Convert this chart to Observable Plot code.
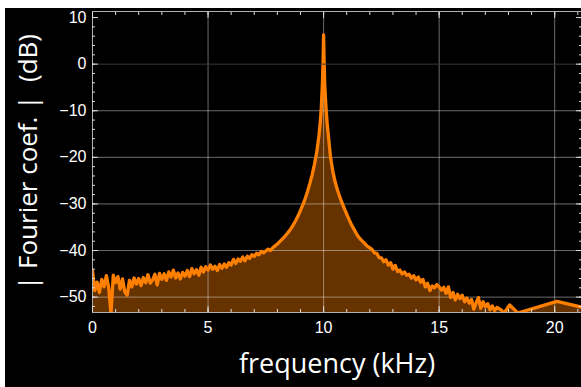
<!DOCTYPE html>
<html><head><meta charset="utf-8">
<script src="https://cdn.jsdelivr.net/npm/d3@7"></script>
<script src="https://cdn.jsdelivr.net/npm/@observablehq/plot@0.6"></script>
<style>
html,body{margin:0;padding:0;background:#fff;width:581px;height:387px;overflow:hidden;}
#chart{position:absolute;left:5px;top:8px;}
</style></head><body><div id="chart"></div>
<script>
const freqKHz = [
  0.0,0.1,0.2,0.3,0.4,0.5,0.6,0.7,0.8,0.9,
  1.0,1.1,1.2,1.3,1.4,1.5,1.6,1.7,1.8,1.9,
  2.0,2.1,2.2,2.3,2.4,2.5,2.6,2.7,2.8,2.9,
  3.0,3.1,3.2,3.3,3.4,3.5,3.6,3.7,3.8,3.9,
  4.0,4.1,4.2,4.3,4.4,4.5,4.6,4.7,4.8,4.9,
  5.0,5.1,5.2,5.3,5.4,5.5,5.6,5.7,5.8,5.9,
  6.0,6.1,6.2,6.3,6.4,6.5,6.6,6.7,6.8,6.9,
  7.0,7.1,7.2,7.3,7.4,7.5,7.6,7.7,7.8,7.9,
  8.0,8.1,8.2,8.3,8.4,8.5,8.6,8.7,8.8,8.9,
  9.0,9.1,9.2,9.3,9.4,9.5,9.6,9.7,9.8,9.85,9.9,9.95,9.98,
  10.0,10.02,10.05,10.1,10.15,10.2,10.3,10.4,10.5,10.6,10.7,10.8,10.9,
  11.0,11.1,11.2,11.3,11.4,11.5,11.6,11.7,11.8,11.9,
  12.0,12.1,12.2,12.3,12.4,12.5,12.6,12.7,12.8,12.9,
  13.0,13.1,13.2,13.3,13.4,13.5,13.6,13.7,13.8,13.9,
  14.0,14.1,14.2,14.3,14.4,14.5,14.6,14.7,14.8,14.9,
  15.0,15.1,15.2,15.3,15.4,15.5,15.6,15.7,15.8,15.9,
  16.0,16.1,16.2,16.3,16.4,16.5,16.6,16.7,16.8,16.9,
  17.0,17.1,17.2,17.3,17.4,17.5,17.7,17.8,18.05,18.4,20.1,21.3
];
const levelDB = [
  -44.3,-48.6,-46.8,-49.0,-46.2,-47.8,-45.4,-47.9,-53.5,-45.3,
  -46.9,-45.6,-48.3,-46.1,-48.9,-49.6,-46.4,-47.8,-45.9,-47.2,
  -46.0,-47.5,-45.8,-46.9,-45.2,-47.0,-46.3,-45.1,-47.4,-44.9,
  -46.2,-45.0,-46.4,-44.6,-45.7,-44.2,-45.9,-44.8,-46.1,-44.7,
  -45.5,-44.3,-45.6,-43.9,-45.0,-44.1,-45.3,-43.6,-44.6,-43.5,
  -44.2,-43.1,-44.0,-43.4,-44.3,-43.0,-43.8,-42.9,-43.6,-42.6,
  -43.1,-41.9,-42.8,-41.8,-42.3,-41.4,-42.2,-41.2,-41.7,-40.9,
  -41.3,-40.6,-40.9,-40.2,-40.5,-40.1,-39.7,-40.0,-39.4,-39.0,
  -38.6,-38.1,-37.6,-37.1,-36.5,-35.9,-35.2,-34.4,-33.5,-32.5,
  -31.4,-30.2,-28.9,-27.4,-25.7,-23.8,-21.6,-19.0,-15.3,-12.8,-9.5,-4.0,1.0,
  6.3,1.0,-4.5,-9.0,-12.5,-15.0,-20.0,-23.0,-25.3,-27.0,-28.5,-29.8,-31.0,
  -32.2,-33.3,-34.4,-35.3,-36.2,-37.0,-37.6,-38.1,-38.6,-39.1,
  -39.4,-39.8,-40.5,-40.6,-41.5,-41.6,-42.4,-42.0,-43.1,-42.6,
  -44.0,-43.2,-44.5,-44.2,-45.0,-44.6,-45.3,-45.1,-45.9,-45.4,
  -46.3,-45.7,-46.8,-46.2,-47.8,-47.0,-48.6,-47.6,-48.0,-47.3,
  -47.8,-48.5,-47.9,-49.2,-47.8,-50.1,-49.0,-50.6,-49.4,-50.3,
  -49.6,-51.0,-50.2,-51.3,-50.5,-52.6,-51.2,-50.1,-52.4,-51.0,
  -52.1,-51.4,-52.7,-51.9,-52.9,-52.2,-52.8,-53.5,-51.7,-53.4,-50.9,-52.3
];
const xMajorTicks = [0, 5, 10, 15, 20];
const xMinorTicks = d3.range(0, 22, 1);
const yMajorTicks = [-50, -40, -30, -20, -10, 0, 10];
const yMinorTicks = d3.range(-52, 12, 2);
const xGrid = [5, 10, 15, 20];
const yGrid = [-50, -40, -30, -20, -10];
const xLabel = "frequency (kHz)";
const yLabel = "| Fourier coef. |\u00a0 (dB)";

const data = freqKHz.map((f, i) => ({f, db: levelDB[i]}));
const labelFont = "'Open Sans', sans-serif";
const tickFont = "'Liberation Sans', Arial, sans-serif";
const tickColor = "#dddddd";

const chart = Plot.plot({
  width: 576,
  height: 379,
  marginLeft: 87,
  marginRight: 0,
  marginTop: 3,
  marginBottom: 75,
  style: {background: "black", color: "white", fontFamily: tickFont, fontSize: "16px", overflow: "visible"},
  x: {domain: [0, 21.16]},
  y: {domain: [-53.3, 11.3]},
  marks: [
    Plot.areaY(data, {x: "f", y1: -60, y2: "db", fill: "#663300", clip: true}),
    Plot.gridX(xGrid, {stroke: "white", strokeOpacity: 0.42}),
    Plot.gridY(yGrid, {stroke: "white", strokeOpacity: 0.42}),
    Plot.line(data, {x: "f", y: "db", stroke: "#ff8000", strokeWidth: 3.3, strokeLinejoin: "round", clip: true}),
    Plot.gridY([0], {stroke: "#3a3a3a", strokeOpacity: 1}),
    Plot.frame({stroke: "#b0b0b0"}),
    Plot.axisX(xMinorTicks, {anchor: "bottom", tickSize: -3, tickFormat: () => "", label: null, stroke: tickColor}),
    Plot.axisX(xMajorTicks, {anchor: "bottom", tickSize: -6, tickFormat: () => "", label: null, stroke: tickColor}),
    Plot.axisX(xMinorTicks, {anchor: "top", tickSize: -3, tickFormat: () => "", label: null, stroke: tickColor}),
    Plot.axisX(xMajorTicks, {anchor: "top", tickSize: -6, tickFormat: () => "", label: null, stroke: tickColor}),
    Plot.axisY(yMinorTicks, {anchor: "left", tickSize: -3, tickFormat: () => "", label: null, stroke: tickColor}),
    Plot.axisY(yMajorTicks, {anchor: "left", tickSize: -6, tickFormat: () => "", label: null, stroke: tickColor}),
    Plot.axisY(yMinorTicks, {anchor: "right", tickSize: -3, tickFormat: () => "", label: null, stroke: tickColor}),
    Plot.axisY(yMajorTicks, {anchor: "right", tickSize: -6, tickFormat: () => "", label: null, stroke: tickColor}),
    Plot.axisX(xMajorTicks, {anchor: "bottom", tickSize: 0, tickPadding: 9, label: null, fontSize: 16, fill: "white"}),
    Plot.axisY(yMajorTicks, {anchor: "left", tickSize: 0, tickPadding: 6, label: null, fontSize: 16, fill: "white"}),
    Plot.text([xLabel], {text: d => d, frameAnchor: "bottom", dy: 52, textAnchor: "middle", lineAnchor: "middle", fontSize: 27, fontFamily: labelFont, fill: "white"}),
    Plot.text([yLabel], {text: d => d, frameAnchor: "left", dx: -64, rotate: -90, textAnchor: "middle", lineAnchor: "middle", fontSize: 26, fontFamily: labelFont, fill: "white"})
  ]
});
document.getElementById("chart").appendChild(chart);
</script>
</body></html>
